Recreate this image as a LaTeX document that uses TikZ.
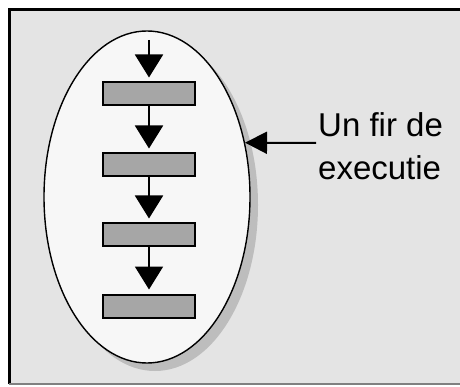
\documentclass[tikz,border=0pt]{standalone}
\usepackage{fontspec}
\setmainfont{Liberation Sans}
\usetikzlibrary{arrows.meta,shapes.geometric}
\definecolor{bgray}{HTML}{E4E4E4}
\definecolor{boxgray}{HTML}{A6A6A6}
\definecolor{shadowgray}{HTML}{BDBDBD}
\begin{document}
\begin{tikzpicture}[x=1pt,y=-1pt,
  stepbox/.style={draw=black,line width=2pt,fill=boxgray,minimum width=92pt,minimum height=23pt,inner sep=0pt},
  flow/.style={line width=2pt,-{Triangle[width=28pt,length=23pt]},shorten >=4pt},
  lbl/.style={font=\fontsize{33}{43}\selectfont,inner sep=0pt,anchor=base west}]
\useasboundingbox (0,0) rectangle (460,387);
\fill[white] (0,0) rectangle (460,387);
% frame
\fill[bgray] (9,9) rectangle (462,384);
\draw[line width=3.5pt] (9.5,384) -- (9.5,9.5) -- (462,9.5);
\draw[line width=2pt,gray] (9,384) -- (462,384);
% ellipse shadow and ellipse
\fill[shadowgray] (155,205) ellipse [x radius=103, y radius=166];
\node[ellipse,draw=black,line width=1.4pt,fill=white!97!black,minimum width=206pt,minimum height=332pt,inner sep=0pt] (ell) at (147,197) {};
% steps
\coordinate (start) at (149,40);
\node[stepbox] (s1) at (149,94) {};
\node[stepbox] (s2) at (149,165) {};
\node[stepbox] (s3) at (149,235) {};
\node[stepbox] (s4) at (149,306) {};
\draw[flow] (start) -- (s1);
\draw[flow] (s1) -- (s2);
\draw[flow] (s2) -- (s3);
\draw[flow] (s3) -- (s4);
% label
\node[lbl] (t1) at (318,137) {Un fir de};
\node[lbl] (t2) at (318,180) {executie};
\coordinate (ptr) at (316,143);
\draw[line width=2pt,-{Triangle[width=22pt,length=22pt]}] (ptr) -- (ell.29);
\end{tikzpicture}
\end{document}
